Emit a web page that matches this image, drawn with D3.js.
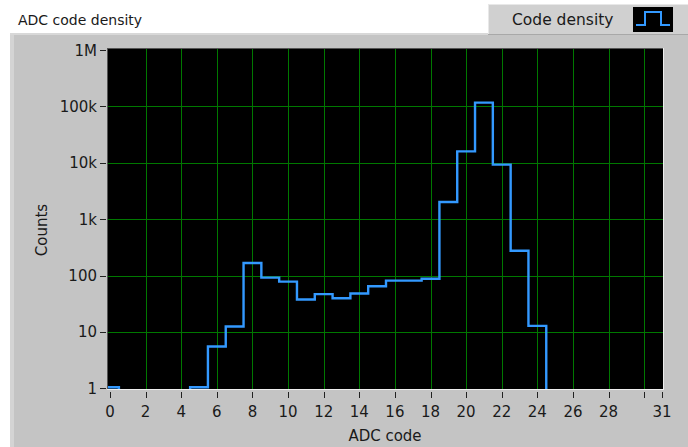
<!DOCTYPE html>
<html>
<head>
<meta charset="utf-8">
<script src="https://cdn.jsdelivr.net/npm/d3@7"></script>
<style>
  body { margin: 0; background: #fff; }
  text { font-family: "DejaVu Sans", "Liberation Sans", sans-serif; fill: #1a1a1a; }
</style>
</head>
<body>
<div id="chart"></div>
<script>
// ADC code bins and counts (0 = empty bin, not drawn on log scale)
var codes = [0,1,2,3,4,5,6,7,8,9,10,11,12,13,14,15,16,17,18,19,20,21,22,23,24,25,26,27,28,29,30,31];
var counts = [1,0,0,0,0,1,5.3,12,160,88,75,36,45,38,46,62,78,78,84,1930,15300,112000,8900,264,12.3,0,0,0,0,0,0,0];
var xTicks = [0,2,4,6,8,10,12,14,16,18,20,22,24,26,28,30,31];
var xLabels = ["0","2","4","6","8","10","12","14","16","18","20","22","24","26","28","","31"];
var yTicks = [1,10,100,1000,10000,100000,1000000];
var yLabels = ["1","10","100","1k","10k","100k","1M"];

var W = 688, H = 447;
var pLeft = 108, pRight = 663, pTop = 49, pBottom = 389;

var svg = d3.select("#chart").append("svg")
  .attr("width", W).attr("height", H);

// panel background
svg.append("rect").attr("x", 10).attr("y", 33).attr("width", W - 10).attr("height", H - 33).attr("fill", "#c4c4c4");
svg.append("rect").attr("x", 10).attr("y", 33).attr("width", 4).attr("height", H - 33).attr("fill", "#d4d4d4");
svg.append("rect").attr("x", 10).attr("y", 33).attr("width", W - 10).attr("height", 2).attr("fill", "#d8d8d8");

// title
svg.append("text").attr("x", 18).attr("y", 25).attr("font-size", 14).text("ADC code density");

// legend box
svg.append("rect").attr("x", 488).attr("y", 4).attr("width", 200).attr("height", 31).attr("fill", "#d0d0d0");
svg.append("rect").attr("x", 488).attr("y", 4).attr("width", 200).attr("height", 1).attr("fill", "#e8e8e8");
svg.append("rect").attr("x", 488).attr("y", 4).attr("width", 1).attr("height", 31).attr("fill", "#e8e8e8");
svg.append("rect").attr("x", 488).attr("y", 34).attr("width", 200).attr("height", 1).attr("fill", "#a8a8a8");
svg.append("text").attr("x", 512).attr("y", 25).attr("font-size", 15.5).text("Code density");
svg.append("rect").attr("x", 633).attr("y", 7).attr("width", 40).attr("height", 25).attr("fill", "#000");
svg.append("path").attr("d", "M636,25H645V12H661V25H670")
  .attr("fill", "none").attr("stroke", "#3399ff").attr("stroke-width", 2);

var x = d3.scaleLinear().domain([0, 31]).range([110, 662]);
var y = d3.scaleLog().domain([1, 1000000]).range([388.3, 50]);

// plot frame
svg.append("rect").attr("x", pLeft - 1).attr("y", pTop - 1).attr("width", pRight - pLeft + 2).attr("height", pBottom - pTop + 2).attr("fill", "#eeeeee");
svg.append("rect").attr("x", pLeft - 1).attr("y", pTop - 1).attr("width", pRight - pLeft + 1).attr("height", pBottom - pTop + 1).attr("fill", "#555");
svg.append("rect").attr("x", pLeft).attr("y", pTop).attr("width", pRight - pLeft).attr("height", pBottom - pTop).attr("fill", "#000");

svg.append("clipPath").attr("id", "plotclip")
  .append("rect").attr("x", pLeft).attr("y", pTop).attr("width", pRight - pLeft).attr("height", pBottom - pTop);

var grid = svg.append("g").attr("clip-path", "url(#plotclip)");
grid.selectAll(".vg").data(xTicks.filter(function(d){ return d > 0 && d < 31; }))
  .enter().append("line")
  .attr("x1", function(d){ return Math.round(x(d)) + 0.5; })
  .attr("x2", function(d){ return Math.round(x(d)) + 0.5; })
  .attr("y1", pTop).attr("y2", pBottom)
  .attr("stroke", "#007800").attr("stroke-width", 1);
grid.selectAll(".hg").data(yTicks.slice(1, -1))
  .enter().append("line")
  .attr("x1", pLeft).attr("x2", pRight)
  .attr("y1", function(d){ return Math.round(y(d)) + 0.5; })
  .attr("y2", function(d){ return Math.round(y(d)) + 0.5; })
  .attr("stroke", "#007800").attr("stroke-width", 1);

// step line: bins centred on each code
var pts = codes.map(function(c, i){ return [c - 0.5, Math.max(counts[i], 0.3)]; });
pts.push([codes[codes.length - 1] + 0.5, Math.max(counts[counts.length - 1], 0.3)]);
var line = d3.line()
  .x(function(d){ return x(d[0]); })
  .y(function(d){ return y(d[1]) - 1; })
  .curve(d3.curveStepAfter);
grid.append("path").datum(pts)
  .attr("d", line)
  .attr("fill", "none")
  .attr("stroke", "#3399ff")
  .attr("stroke-width", 2.4);

// x axis
var xa = svg.append("g");
xa.selectAll("line").data(xTicks).enter().append("line")
  .attr("x1", function(d){ return Math.round(x(d)) + 0.5; })
  .attr("x2", function(d){ return Math.round(x(d)) + 0.5; })
  .attr("y1", 392).attr("y2", 398)
  .attr("stroke", "#222");
xa.selectAll("text").data(xTicks).enter().append("text")
  .attr("x", function(d){ return x(d); })
  .attr("y", 417)
  .attr("text-anchor", "middle")
  .attr("font-size", 15)
  .text(function(d, i){ return xLabels[i]; });
svg.append("text").attr("x", 385).attr("y", 441).attr("text-anchor", "middle")
  .attr("font-size", 15).text("ADC code");

// y axis
var ya = svg.append("g");
ya.selectAll("line").data(yTicks).enter().append("line")
  .attr("x1", 100).attr("x2", 106)
  .attr("y1", function(d){ return Math.round(y(d)) + 0.5; })
  .attr("y2", function(d){ return Math.round(y(d)) + 0.5; })
  .attr("stroke", "#222");
ya.selectAll("text").data(yTicks).enter().append("text")
  .attr("x", 97)
  .attr("y", function(d){ return y(d) + 5.5; })
  .attr("text-anchor", "end")
  .attr("font-size", 15)
  .text(function(d, i){ return yLabels[i]; });
svg.append("text")
  .attr("transform", "translate(47,230) rotate(-90)")
  .attr("text-anchor", "middle")
  .attr("font-size", 15).text("Counts");
</script>
</body>
</html>
